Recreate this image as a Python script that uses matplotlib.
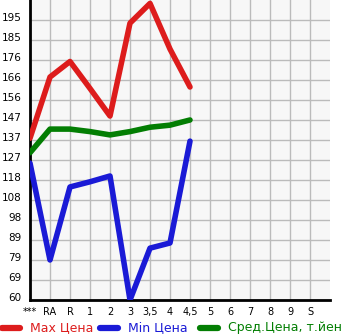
import numpy as np
import matplotlib.pyplot as plt
import matplotlib.transforms as mtransforms
from matplotlib.lines import Line2D

# categories and series
cats = ["***", "RA", "R", "1", "2", "3", "3,5", "4", "4,5", "5", "6", "7", "8", "9", "S"]
max_price = [138, 167.5, 175, 162, 148.7, 193.5, 203, 181, 162.7]
min_price = [126, 79.3, 114.5, 117, 119.8, 60, 85, 87.5, 136.6]
avg_price = [131, 142.4, 142.4, 141.2, 139.6, 141.2, 143.3, 144.3, 146.8]
ytick_labels = ["60", "69", "79", "89", "98", "108", "118", "127", "137",
                "147", "156", "166", "176", "185", "195"]

red = "#dd1c1c"
blue = "#1a1ad6"
green = "#037e03"

fig = plt.figure(figsize=(3.45, 3.35), dpi=100)
ax = fig.add_axes([30/345, 35/335, 300/345, 300/335])
ax.set_facecolor("#f7f7f7")

step = 9.643
yticks = [60 + k*step for k in range(len(ytick_labels))]
ax.set_ylim(60, 60 + 15*step)
ax.set_xlim(0, 15)

xs = np.arange(len(max_price))
ax.plot(xs, max_price, color=red, lw=4, solid_capstyle="round", zorder=3)
ax.plot(xs, min_price, color=blue, lw=4, solid_capstyle="round", zorder=3)
ax.plot(xs, avg_price, color=green, lw=4, solid_capstyle="round", zorder=3)

ax.set_yticks(yticks)
ax.set_yticklabels(ytick_labels, fontsize=7.5)
ax.set_xticks(np.arange(len(cats)))
ax.set_xticklabels(cats, fontsize=7)
ax.tick_params(axis="y", length=0, pad=6)
ax.tick_params(axis="x", length=0, pad=5)
off = mtransforms.ScaledTranslation(0, 3/100, fig.dpi_scale_trans)
for lab in ax.get_yticklabels():
    lab.set_transform(lab.get_transform() + off)

ax.grid(True, color="#bbbbbb", lw=1)
ax.set_axisbelow(True)
for s in ["top", "right"]:
    ax.spines[s].set_visible(False)
ax.spines["left"].set_linewidth(2)
ax.spines["bottom"].set_linewidth(2)

# legend row along the bottom
items = [(0, red, "Max Цена"), (98, blue, "Min Цена"), (198, green, "Сред.Цена, т.йен")]
for x0, c, txt in items:
    fig.add_artist(Line2D([(x0 + 2)/345, (x0 + 20)/345], [7/335, 7/335],
                          color=c, lw=4.5, solid_capstyle="round"))
    fig.text((x0 + 30)/345, 7/335, txt, color=c, fontsize=9, va="center", ha="left")

plt.savefig("out.png", dpi=100)
